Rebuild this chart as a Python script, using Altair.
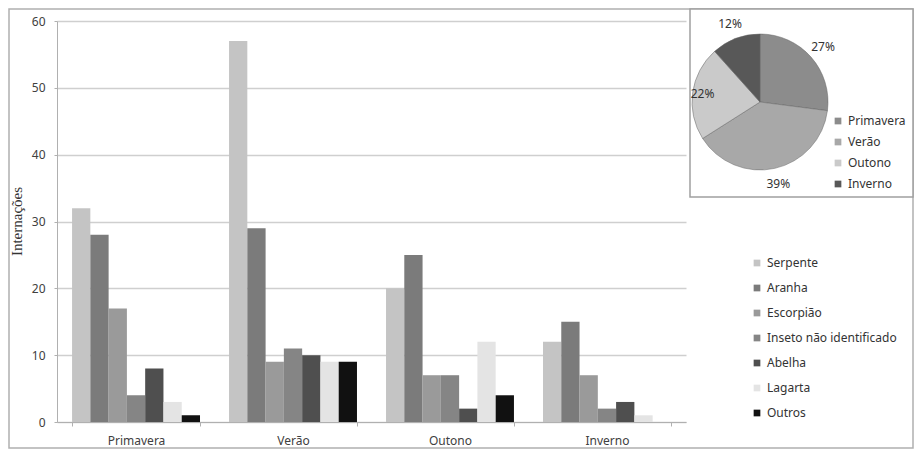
import altair as alt
import pandas as pd

# ---- data ----
seasons = ["Primavera", "Verão", "Outono", "Inverno"]
types = ["Serpente", "Aranha", "Escorpião", "Inseto não identificado",
         "Abelha", "Lagarta", "Outros"]
primavera = [32, 28, 17, 4, 8, 3, 1]
verao = [57, 29, 9, 11, 10, 9, 9]
outono = [20, 25, 7, 7, 2, 12, 4]
inverno = [12, 15, 7, 2, 3, 1, 0]
y_ticks = [0, 10, 20, 30, 40, 50, 60]

bar_colors = ["#c4c4c4", "#7b7b7b", "#9a9a9a", "#858585", "#4f4f4f", "#e4e4e4", "#111111"]
pie_colors = ["#8c8c8c", "#a8a8a8", "#cacaca", "#585858"]

series = [primavera, verao, outono, inverno]
rows = []
for s, vals in zip(seasons, series):
    for t, v in zip(types, vals):
        rows.append({"season": s, "tipo": t, "value": v})
bars_df = pd.DataFrame(rows)

totals = [sum(v) for v in series]
grand = sum(totals)
pie_df = pd.DataFrame({
    "season": seasons,
    "total": totals,
    "idx": list(range(len(seasons))),
    "label": [f"{round(t / grand * 100)}%" for t in totals],
})

FONT = "Noto Sans"
one = pd.DataFrame({"a": [1]})

frame = alt.Chart(one).mark_rect(fillOpacity=0, stroke="#b0b0b0", strokeWidth=1.5).encode(
    x=alt.value(-48), x2=alt.value(856), y=alt.value(-12), y2=alt.value(427)
)

bars = alt.Chart(bars_df).mark_bar().encode(
    x=alt.X("season:N", sort=seasons,
            scale=alt.Scale(paddingInner=0.185, paddingOuter=0.096),
            axis=alt.Axis(title=None, labelAngle=0, tickBand="extent", ticks=True,
                          tickSize=4, tickColor="#b0b0b0", domainColor="#b0b0b0",
                          labelPadding=9, labelFontSize=12, grid=False)),
    xOffset=alt.XOffset("tipo:N", sort=types,
                        scale=alt.Scale(paddingInner=0, paddingOuter=0)),
    y=alt.Y("value:Q", scale=alt.Scale(domain=[0, 60], nice=False),
            axis=alt.Axis(values=y_ticks, title="Internações", titleFont="Liberation Serif",
                          titleFontSize=15, titleFontWeight="normal", titleColor="#333333",
                          titleX=-33, titleY=200, grid=True, gridColor="#cfcfcf",
                          gridWidth=1.5, domainColor="#b0b0b0", tickSize=3,
                          tickColor="#b0b0b0", labelPadding=9, labelFontSize=12)),
    color=alt.Color("tipo:N", sort=types,
                    scale=alt.Scale(domain=types, range=bar_colors),
                    legend=alt.Legend(title=None, orient="none", legendX=694, legendY=236,
                                      symbolType="square", symbolSize=45, rowPadding=13,
                                      labelFontSize=12, labelColor="#333333",
                                      symbolStrokeWidth=0)),
)

box = alt.Chart(one).mark_rect(fill="white", stroke="#a0a0a0", strokeWidth=1.5).encode(
    x=alt.value(633), x2=alt.value(856), y=alt.value(-12), y2=alt.value(176)
)

pie = alt.Chart(pie_df).mark_arc(stroke="#666666", strokeWidth=0.5).encode(
    theta=alt.Theta("total:Q", stack=True),
    order=alt.Order("idx:Q"),
    color=alt.Color("season:N", sort=seasons,
                    scale=alt.Scale(domain=seasons, range=pie_colors),
                    legend=alt.Legend(title=None, orient="none", legendX=775, legendY=94,
                                      symbolType="square", symbolSize=45, rowPadding=9,
                                      labelFontSize=12, labelColor="#333333",
                                      symbolStrokeWidth=0)),
    x=alt.value(703), y=alt.value(81), radius=alt.value(68),
)

text_base = alt.Chart(pie_df).transform_joinaggregate(
    grand="sum(total)"
).transform_window(
    cum="sum(total)", sort=[alt.SortField("idx")]
).transform_calculate(
    mid="(datum.cum - datum.total / 2) / datum.grand * 2 * PI"
)

pie_text_outer = text_base.transform_filter(alt.datum.season != "Outono").mark_text(
    fontSize=12, color="#333333", font=FONT
).encode(
    x=alt.X("px:Q", scale=None), y=alt.Y("py:Q", scale=None), text="label:N"
).transform_calculate(
    px="703 + 84 * sin(datum.mid)", py="81 - 84 * cos(datum.mid)"
)

pie_text_inner = text_base.transform_filter(alt.datum.season == "Outono").mark_text(
    fontSize=12, color="#333333", font=FONT
).encode(
    x=alt.X("px:Q", scale=None), y=alt.Y("py:Q", scale=None), text="label:N"
).transform_calculate(
    px="703 + 58 * sin(datum.mid)", py="81 - 58 * cos(datum.mid)"
)

chart = alt.layer(frame, bars, box, pie, pie_text_outer, pie_text_inner).resolve_scale(
    color="independent", x="independent", y="independent"
).properties(
    width=629, height=401,
    autosize=alt.AutoSizeParams(type="none"),
    padding={"left": 49, "top": 13, "right": 228, "bottom": 27},
).configure_view(stroke=None).configure_axis(
    labelFont=FONT, labelFontSize=11, labelColor="#404040"
).configure_legend(labelFont=FONT)

chart.save("out.html", embed_options={"renderer": "svg", "actions": False})
